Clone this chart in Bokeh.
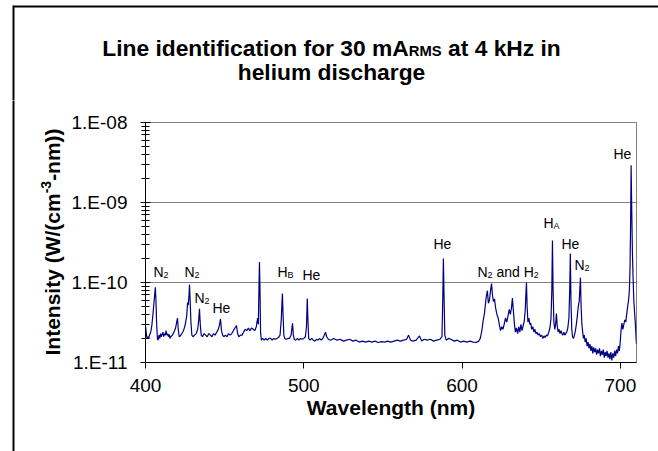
import numpy as np
from bokeh.plotting import figure
from bokeh.layouts import column, row
from bokeh.models import Range1d, FixedTicker, CustomJSTickFormatter, ColumnDataSource
from bokeh.core.properties import value
from bokeh.embed import file_html
from bokeh.resources import INLINE

FONT = "Liberation Sans"

# ---------------- texts ----------------
title_line1 = [("Line identification for 30 mA", False), ("RMS", True), (" at 4 kHz in", False)]
title_line2 = "helium discharge"
x_label = "Wavelength (nm)"
y_label = [("Intensity (W/(cm", False), ("-3", True), ("-nm))", False)]

# ---------------- axes ----------------
x_ticks = [400, 500, 600, 700]
y_decades = [1e-11, 1e-10, 1e-9, 1e-8]
X0, X1 = 400.0, 710.2
Y0, Y1 = 1e-11, 1e-8

# ---------------- spectrum (intensity in units of 1e-11 W/(cm^3 nm)) ----------------
wl_a = [400.0, 400.5, 401.0, 401.5, 402.0, 402.5, 403.0, 403.5, 404.0, 404.6, 405.2, 405.8, 406.2, 406.6, 407.0, 407.5]
in_a = [2.9, 2.3, 2.0, 2.1, 2.0, 2.2, 2.3, 2.5, 2.9, 3.8, 5.2, 7.0, 8.7, 6.0, 3.2, 2.0]

wl_b = [408.0, 408.5, 409.0, 409.5, 410.0, 410.5, 411.0, 411.5, 412.0, 412.5, 413.0, 413.5, 414.0, 414.5, 415.0, 415.5,
        416.0, 417.0, 418.0, 419.0, 419.7, 420.2, 420.7, 421.3]
in_b = [1.9, 2.2, 2.0, 2.3, 2.1, 2.25, 2.4, 2.1, 2.3, 2.2, 2.5, 2.2, 2.3, 2.1, 2.25, 2.0,
        2.1, 2.2, 2.4, 2.7, 3.2, 3.6, 2.6, 2.1]

wl_c = [422.0, 423.0, 424.0, 425.0, 426.0, 426.6, 427.0, 427.5, 427.8, 428.2, 428.7, 429.3, 430.0, 431.0, 432.0, 433.0,
        433.6, 434.1, 434.6, 435.2]
in_c = [2.15, 2.3, 2.5, 2.9, 3.8, 5.6, 5.2, 7.0, 9.4, 6.0, 3.2, 2.2, 2.1, 2.2, 2.3, 2.6,
        3.4, 4.7, 3.0, 2.2]

wl_d = [436.0, 437.0, 438.0, 439.0, 440.0, 441.0, 442.0, 443.0, 444.0, 445.0, 446.0, 446.8, 447.4, 448.0, 448.7, 449.5,
        450.5, 451.5, 452.5, 453.5, 454.5, 455.5, 456.5, 457.5, 458.2]
in_d = [2.1, 2.3, 2.2, 2.1, 2.3, 2.2, 2.1, 2.3, 2.2, 2.4, 2.6, 3.0, 3.5, 2.5, 2.2, 2.1,
        2.2, 2.1, 2.3, 2.2, 2.3, 2.5, 2.7, 2.9, 2.3]

wl_e = [459.0, 460.0, 461.0, 462.0, 463.0, 464.0, 465.0, 466.0, 467.0, 468.0, 469.0, 470.0, 470.8, 471.3, 471.7, 472.0,
        472.3, 472.7, 473.2]
in_e = [2.1, 2.2, 2.2, 2.4, 2.6, 2.5, 2.7, 2.5, 2.7, 2.6, 2.5, 2.8, 3.6, 3.0, 9.0, 18.0,
        9.0, 2.4, 1.9]

wl_f = [474.0, 475.0, 476.0, 477.0, 478.0, 479.0, 480.0, 481.0, 482.0, 483.0, 484.0, 485.0, 485.8, 486.2, 486.5, 486.9,
        487.4, 488.0, 489.0, 490.0, 491.0, 492.0, 492.5, 492.9, 493.4, 494.0]
in_f = [2.0, 1.9, 2.0, 1.9, 2.0, 2.0, 1.9, 2.0, 1.95, 2.0, 2.05, 2.2, 3.5, 5.5, 7.3, 4.0,
        2.2, 2.0, 1.95, 2.0, 2.0, 2.2, 2.7, 3.1, 2.2, 1.95]

wl_g = [495.0, 496.0, 497.0, 498.0, 499.0, 500.0, 501.0, 501.7, 502.2, 502.6, 503.1, 504.0, 505.0, 506.0, 507.0, 508.0,
        509.0, 510.0, 511.0, 512.0, 513.0, 513.7, 514.5, 515.5]
in_g = [1.9, 2.0, 1.9, 2.0, 1.95, 2.0, 2.1, 2.8, 6.3, 3.5, 2.0, 1.9, 2.0, 1.9, 1.85, 1.95,
        1.9, 2.0, 1.9, 2.0, 2.2, 2.4, 2.1, 1.95]

wl_h = [517, 519, 521, 523, 525, 527, 529, 531, 533, 535, 537, 539, 541, 543, 545, 547, 549, 551, 553, 555,
        557, 559, 561, 563, 565, 566.2, 567.5, 569, 571, 573.1, 574.5, 576, 578, 580, 582, 584, 586]
in_h = [1.9, 2.0, 1.9, 1.95, 1.85, 1.9, 1.95, 1.85, 1.9, 1.8, 1.85, 1.8, 1.85, 1.8, 1.85, 1.78, 1.82, 1.8, 1.85, 1.8,
        1.85, 1.9, 1.85, 1.9, 1.95, 2.2, 1.9, 1.85, 1.9, 2.15, 1.85, 1.95, 1.9, 1.95, 1.85, 1.9, 1.95]

wl_i = [587.3, 587.8, 588.2, 588.6, 589.1, 590.0, 591.5, 593.0, 595.0, 597.0, 599.0, 601.0, 603.0, 605.0, 607.0, 609.0,
        610.5, 611.5, 612.5]
in_i = [2.1, 6.0, 20.0, 7.0, 2.2, 1.9, 2.0, 1.95, 1.85, 1.9, 1.8, 1.85, 1.8, 1.85, 1.8, 1.78,
        1.85, 2.0, 2.5]

wl_j = [613.3, 614.2, 615.2, 616.0, 616.6, 617.3, 618.0, 618.6, 619.2, 619.8, 620.5, 621.2, 622.0, 622.8, 623.5, 624.3,
        625.1, 625.8, 626.6, 627.4, 628.2, 629.0, 629.8, 630.5, 631.2, 631.8, 632.5, 633.1, 633.7, 634.4, 635.1, 635.8,
        636.5, 637.2, 637.9, 638.6, 639.3, 639.9, 640.3, 640.7, 641.1, 641.6]
in_j = [3.3, 4.2, 6.5, 7.9, 5.5, 6.0, 8.0, 9.7, 7.0, 5.8, 6.2, 4.8, 4.0, 3.6, 3.0, 2.5,
        2.8, 2.6, 3.0, 3.6, 3.2, 3.8, 4.6, 4.0, 4.8, 6.4, 4.2, 3.0, 2.4, 2.7, 2.3, 2.8,
        2.4, 3.0, 2.5, 2.9, 3.3, 4.5, 7.0, 10.0, 5.0, 3.2]

wl_k = [642.2, 642.8, 643.4, 644.0, 644.7, 645.4, 646.0, 646.7, 647.4, 648.0, 648.8, 649.5, 650.3, 651.0, 651.8, 652.5,
        653.3, 654.0, 654.8, 655.5, 656.2, 656.7, 657.1, 657.5, 658.0, 658.6, 659.1, 659.6, 660.1, 660.7, 661.3, 661.9,
        662.5, 663.1, 663.7, 664.3, 664.9, 665.5, 666.1, 666.8, 667.5, 668.0, 668.4, 668.8, 669.3, 669.8, 670.4, 671.0,
        671.6, 672.2, 672.8, 673.4, 674.0, 674.5, 674.8, 675.2, 675.7, 676.2, 676.7]
in_k = [3.6, 3.0, 3.1, 2.6, 2.8, 2.4, 2.6, 2.3, 2.4, 2.2, 2.3, 2.1, 2.2, 2.0, 2.15, 2.05,
        2.2, 2.15, 2.4, 2.7, 3.6, 8.0, 33.5, 8.0, 3.2, 2.6, 3.0, 4.1, 2.9, 2.4, 2.6, 2.3,
        2.5, 2.3, 2.2, 2.4, 2.2, 2.3, 2.4, 2.7, 3.6, 8.0, 23.0, 6.0, 2.6, 2.1, 2.0, 2.2,
        2.5, 3.0, 3.8, 5.0, 5.8, 9.0, 11.5, 5.0, 3.0, 2.4, 2.0]

wl_l = [677.2, 677.8, 678.4, 679.0, 679.6, 680.2, 680.8, 681.4, 682.0, 682.6, 683.2, 683.8, 684.4, 685.0, 685.6, 686.2,
        686.8, 687.4, 688.0, 688.6, 689.2, 689.8, 690.4, 691.0, 691.6, 692.2, 692.8, 693.4, 694.0, 694.6, 695.2, 695.8,
        696.4, 697.0, 697.6, 698.2, 698.8, 699.4, 700.0, 700.5, 701.0, 701.6, 702.2, 702.8, 703.4, 704.0, 704.6, 705.2,
        705.7, 706.1, 706.5, 706.8, 707.2, 707.6, 708.0, 708.5, 709.0, 709.5, 710.0, 710.2]
in_l = [2.2, 1.8, 2.0, 1.6, 1.8, 1.5, 1.7, 1.4, 1.6, 1.3, 1.55, 1.35, 1.5, 1.25, 1.45, 1.3,
        1.5, 1.2, 1.4, 1.25, 1.45, 1.15, 1.35, 1.2, 1.4, 1.15, 1.3, 1.1, 1.35, 1.06, 1.3, 1.15,
        1.4, 1.2, 1.45, 1.3, 1.6, 1.4, 1.9, 2.6, 3.1, 2.6, 3.0, 3.4, 3.2, 4.0, 5.0, 6.0,
        8.0, 15.0, 60.0, 292.0, 80.0, 25.0, 12.0, 6.0, 4.2, 3.0, 1.9, 1.7]

# ---------------- line identifications ----------------
ann_text = ["N_2", "N_2", "N_2", "He", "H_B", "He", "He", "N_2 and H_2", "H_A", "He", "N_2", "He"]
ann_x = [405.05, 424.64, 430.95, 442.32, 483.39, 499.18, 581.93, 609.73, 651.42, 662.79, 671.0, 695.64]
ann_y = [1.345e-10, 1.345e-10, 6.37e-11, 4.77e-11, 1.345e-10, 1.23e-10, 3.01e-10, 1.345e-10, 5.51e-10, 3.01e-10,
         1.645e-10, 4.02e-9]

# ---------------- assemble ----------------
wavelength = np.array(wl_a + wl_b + wl_c + wl_d + wl_e + wl_f + wl_g + wl_h + wl_i + wl_j + wl_k + wl_l, dtype=float)
intensity = np.array(in_a + in_b + in_c + in_d + in_e + in_f + in_g + in_h + in_i + in_j + in_k + in_l, dtype=float) * 1e-11
assert len(wavelength) == len(intensity)

# Arial / Liberation Sans advance widths (1/1000 em)
W_REG = {' ': 278, 'A': 667, 'B': 667, 'H': 722, 'N': 722, 'a': 556, 'd': 556, 'e': 556, 'n': 556, '2': 556}
W_BOLD = {' ': 278, 'A': 722, 'H': 722, 'L': 611, 'M': 833, 'R': 722, 'S': 667, 'W': 944, 'I': 278,
          'a': 556, 'c': 556, 'd': 611, 'e': 556, 'f': 333, 'g': 611, 'h': 611, 'i': 278, 'k': 556,
          'l': 278, 'm': 889, 'n': 611, 'o': 611, 'r': 389, 's': 556, 't': 333, 'u': 611, 'v': 556,
          'y': 556, 'z': 500, '0': 556, '3': 556, '4': 556, '(': 333, ')': 333, '/': 278, '-': 333}


def tw(s, size, table):
    return sum(table.get(c, 556) for c in s) * size / 1000.0


def split_sub(s):
    parts, buf, i = [], "", 0
    while i < len(s):
        if s[i] == "_" and i + 1 < len(s):
            if buf:
                parts.append((buf, False))
                buf = ""
            parts.append((s[i + 1], True))
            i += 2
        else:
            buf += s[i]
            i += 1
    if buf:
        parts.append((buf, False))
    return parts


# ---------------- page layout (pixels) ----------------
W, H = 658, 451
TOP_H = 100          # title strip
LEFT_W = 66          # y-label strip
FR_L, FR_R, FR_T, FR_B = 145, 636, 122, 362   # plot frame on the page
FRAME_X, FRAME_Y = 13, 6                       # outer chart-area border (top/left)


def strip(width, height, x0, y0):
    f = figure(width=width, height=height, x_range=Range1d(x0, x0 + width),
               y_range=Range1d(y0 + height, y0), x_axis_type=None, y_axis_type=None,
               output_backend="svg", toolbar_location=None, min_border=0)
    f.outline_line_color = None
    f.background_fill_color = "white"
    f.border_fill_color = "white"
    f.xgrid.visible = False
    f.ygrid.visible = False
    return f


# ---- title strip ----
top = strip(W, TOP_H, 0, 0)
top.segment(x0=[FRAME_X, FRAME_X], y0=[FRAME_Y, FRAME_Y - 1], x1=[W + 5, FRAME_X], y1=[FRAME_Y, TOP_H + 1],
            line_color="black", line_width=2)
T_SIZE, T_SUB, CX = 22.8, 14.8, 331
segs = dict(x=[], y=[], t=[], s=[])
total = sum(tw(t, T_SUB if sb else T_SIZE, W_BOLD) for t, sb in title_line1)
xx = CX - total / 2
for t, sb in title_line1:
    size = T_SUB if sb else T_SIZE
    stripped = t.lstrip(" ")
    xx += tw(t[:len(t) - len(stripped)], size, W_BOLD)
    segs["x"].append(xx)
    segs["y"].append(50.5 if sb else 47)
    segs["t"].append(stripped)
    segs["s"].append(f"{size}px")
    xx += tw(stripped, size, W_BOLD)
top.text(x="x", y="y", text="t", text_font_size="s", source=ColumnDataSource(segs), text_font=value(FONT),
         text_font_style="bold", text_align="left", text_baseline="alphabetic", text_color="black")
top.text(x=[CX], y=[71], text=[title_line2], text_font_size=f"{T_SIZE}px",
         text_font=value(FONT), text_font_style="bold", text_align="center",
         text_baseline="alphabetic", text_color="black")

# ---- y-label strip ----
left = strip(LEFT_W, H - TOP_H, 0, TOP_H)
left.segment(x0=[FRAME_X], y0=[TOP_H - 1], x1=[FRAME_X], y1=[H + 5], line_color="black", line_width=2)
L_SIZE, L_SUP = 21, 14
ylab = dict(x=[], y=[], t=[], s=[])
yy = 355
for t, sp in y_label:
    size = L_SUP if sp else L_SIZE
    ylab["x"].append(45 if sp else 52)
    ylab["y"].append(yy)
    ylab["t"].append(t)
    ylab["s"].append(f"{size}px")
    yy -= tw(t, size, W_BOLD)
left.text(x="x", y="y", text="t", text_font_size="s", source=ColumnDataSource(ylab), angle=np.pi / 2,
          text_font=value(FONT), text_font_style="bold", text_align="left",
          text_baseline="alphabetic", text_color="black")

# ---- main plot ----
p = figure(width=W - LEFT_W, height=H - TOP_H,
           x_range=Range1d(X0, X1), y_range=Range1d(Y0, Y1),
           y_axis_type="log", output_backend="svg", toolbar_location=None,
           min_border_left=FR_L - LEFT_W, min_border_right=W - FR_R,
           min_border_top=FR_T - TOP_H, min_border_bottom=H - FR_B)
p.background_fill_color = "white"
p.border_fill_color = "white"
p.outline_line_color = "#808080"
p.outline_line_width = 1

p.xaxis.ticker = FixedTicker(ticks=x_ticks)
p.xaxis.major_tick_in = 0
p.xaxis.major_tick_out = 6
p.xaxis.minor_tick_in = 0
p.xaxis.minor_tick_out = 0
p.xaxis.major_label_standoff = 10
p.xaxis.axis_label = x_label
p.xaxis.axis_label_standoff = 1
p.xaxis.axis_label_text_font = FONT
p.xaxis.axis_label_text_font_size = "21px"
p.xaxis.axis_label_text_font_style = "bold"
p.xaxis.axis_label_text_color = "black"

minor = [m * d for d in y_decades[:-1] for m in range(2, 10)]
p.yaxis.ticker = FixedTicker(ticks=y_decades, minor_ticks=minor)
p.yaxis.formatter = CustomJSTickFormatter(code="""
const e = Math.round(Math.log10(tick));
const a = Math.abs(e);
return '1.E' + (e < 0 ? '-' : '+') + (a < 10 ? '0' + a : '' + a);
""")
p.yaxis.major_tick_in = 5
p.yaxis.major_tick_out = 5
p.yaxis.minor_tick_in = 4
p.yaxis.minor_tick_out = 4
p.yaxis.major_label_standoff = 13

for ax in (p.xaxis, p.yaxis):
    ax.axis_line_color = "black"
    ax.major_tick_line_color = "black"
    ax.minor_tick_line_color = "black"
    ax.major_label_text_font = FONT
    ax.major_label_text_font_size = "19px"
    ax.major_label_text_color = "black"

p.xgrid.visible = False
p.ygrid.grid_line_color = "#808080"
p.ygrid.grid_line_width = 1

p.line(wavelength, intensity, line_color="#000080", line_width=1.2)

ANN_SIZE, SUB_SIZE = 14, 9
base = dict(x=[], y=[], t=[], dx=[])
subs = dict(x=[], y=[], t=[], dx=[])
for s, xv, yv in zip(ann_text, ann_x, ann_y):
    off = 0.0
    for txt, is_sub in split_sub(s):
        size = SUB_SIZE if is_sub else ANN_SIZE
        stripped = txt.lstrip(" ")
        off += tw(txt[:len(txt) - len(stripped)], size, W_REG)
        d = subs if is_sub else base
        d["x"].append(xv)
        d["y"].append(yv)
        d["t"].append(stripped)
        d["dx"].append(off)
        off += tw(stripped, size, W_REG)

p.text(x="x", y="y", text="t", x_offset="dx", source=ColumnDataSource(base),
       text_font=value(FONT), text_font_size=f"{ANN_SIZE}px", text_align="left",
       text_baseline="alphabetic", text_color="black")
p.text(x="x", y="y", text="t", x_offset="dx", y_offset=3, source=ColumnDataSource(subs),
       text_font=value(FONT), text_font_size=f"{SUB_SIZE}px", text_align="left",
       text_baseline="alphabetic", text_color="black")

for f in (top, left, p):
    f.margin = 0

# the y-label strip is wrapped in its own column so that its frame is not aligned with the plot's
layout = column(top, row(column(left, spacing=0, margin=0), p, spacing=0, margin=0), spacing=0, margin=0)

open("out.html", "w").write(file_html(layout, INLINE))
